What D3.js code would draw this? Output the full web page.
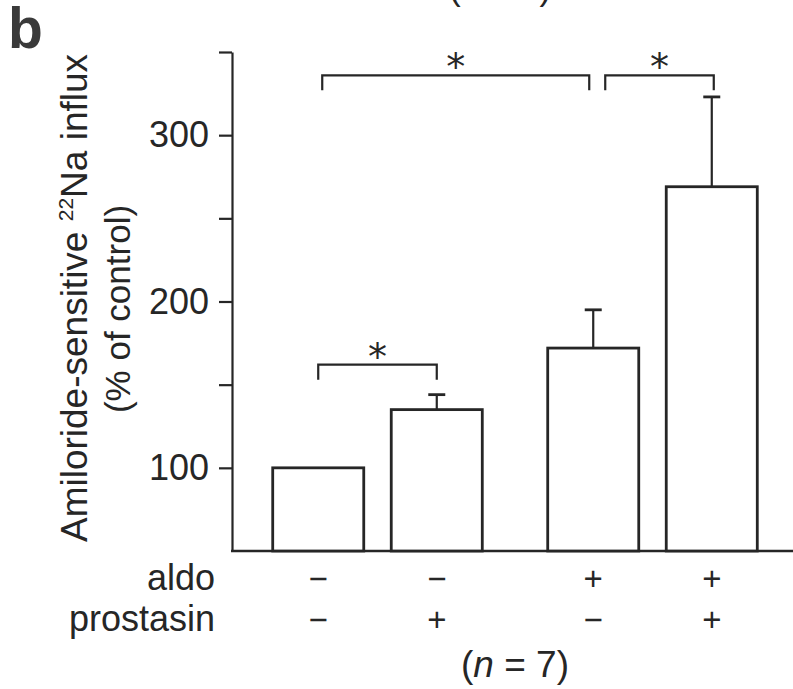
<!DOCTYPE html>
<html><head><meta charset="utf-8">
<script src="https://cdn.jsdelivr.net/npm/d3@7"></script>
<style>body{margin:0;background:#fff}svg{display:block}</style>
</head><body><svg id="c" width="793" height="689"></svg>
<script>
// ---- data ----
const aldo      = ["−", "−", "+", "+"];
const prostasin = ["−", "+", "−", "+"];
const values    = [100, 135, 172, 269];
const errUpper  = [100, 144, 195, 323];
const yTickValues = [100, 150, 200, 250, 300, 350];
const yTickLabels = [100, 200, 300];
const brackets = [
  {from: 0, to: 1, top: 162, leg: 153},
  {from: 0, to: 2, top: 336, leg: 327},
  {from: 2, to: 3, top: 336, leg: 327}
];
const bracketInsets = [[0, 0], [4, -4], [12, 2]];
const nLabel = "7";

// ---- drawing ----
const svg = d3.select("#c");
const FONT = "'Liberation Sans', Arial, Helvetica, sans-serif";
const INK = "#262626";

const y = d3.scaleLinear().domain([50, 350]).range([551, 52]);
const xOuter = d3.scaleBand().domain(["−", "+"]).range([240, 790]);
const xInner = d3.scaleBand().domain(["−", "+"]).range([0, xOuter.bandwidth()])
  .paddingInner(0.232).paddingOuter(0.276);
const xLeft = i => xOuter(aldo[i]) + xInner(prostasin[i]);
const xMid = i => xLeft(i) + xInner.bandwidth() / 2;

// panel letter
svg.append("text").attr("x", 8).attr("y", 48)
  .attr("font-family", FONT).attr("font-weight", "bold").attr("font-size", 57)
  .attr("fill", "#3a3a3a").text("b");

// cut-off top label
svg.append("text").attr("x", 500).attr("y", 0).attr("text-anchor", "middle")
  .attr("font-family", FONT).attr("font-size", 35).attr("fill", INK)
  .text("(n = 5)");

// y axis
const axisX = 232;
const yAxis = d3.axisLeft(y).tickValues(yTickValues).tickSize(13).tickSizeOuter(0)
  .tickPadding(10).tickFormat(d => yTickLabels.includes(d) ? d : "");
const gy = svg.append("g").attr("transform", `translate(${axisX},0)`).call(yAxis);
gy.select(".domain").attr("stroke", INK).attr("stroke-width", 2.2);
gy.selectAll(".tick line").attr("stroke", INK).attr("stroke-width", 2.2);
gy.selectAll(".tick text").attr("font-family", FONT).attr("font-size", 36)
  .attr("fill", INK);

// baseline
svg.append("line").attr("x1", axisX - 1).attr("x2", 793)
  .attr("y1", y(50)).attr("y2", y(50))
  .attr("stroke", INK).attr("stroke-width", 2.6);

// y title
const title = svg.append("text")
  .attr("transform", `translate(87, 298) rotate(-90)`)
  .attr("text-anchor", "middle").attr("font-family", FONT).attr("font-size", 37)
  .attr("fill", INK);
title.append("tspan").text("Amiloride-sensitive ");
title.append("tspan").attr("font-size", 21).attr("dy", -14).text("22");
title.append("tspan").attr("dy", 14).text("Na influx");
svg.append("text")
  .attr("transform", `translate(130, 309) rotate(-90)`)
  .attr("text-anchor", "middle").attr("font-family", FONT).attr("font-size", 35)
  .attr("fill", INK).text("(% of control)");

// bars
svg.selectAll("rect.bar").data(values).join("rect").attr("class", "bar")
  .attr("x", (d, i) => xLeft(i)).attr("width", xInner.bandwidth())
  .attr("y", d => y(d)).attr("height", d => y(50) - y(d))
  .attr("fill", "#fff").attr("stroke", INK).attr("stroke-width", 2.8);

// error bars
const capW = 17;
const eb = svg.selectAll("g.eb").data(values.map((v, i) => ({v, e: errUpper[i], i})).filter(d => d.e > d.v))
  .join("g").attr("class", "eb");
eb.append("line").attr("x1", d => xMid(d.i)).attr("x2", d => xMid(d.i))
  .attr("y1", d => y(d.v)).attr("y2", d => y(d.e))
  .attr("stroke", INK).attr("stroke-width", 2.2);
eb.append("line").attr("x1", d => xMid(d.i) - capW / 2).attr("x2", d => xMid(d.i) + capW / 2)
  .attr("y1", d => y(d.e)).attr("y2", d => y(d.e))
  .attr("stroke", INK).attr("stroke-width", 2.8);

// significance brackets
brackets.forEach((b, k) => {
  const x1 = xMid(b.from) + bracketInsets[k][0];
  const x2 = xMid(b.to) + bracketInsets[k][1];
  svg.append("path")
    .attr("d", `M${x1},${y(b.leg)}V${y(b.top)}H${x2}V${y(b.leg)}`)
    .attr("fill", "none").attr("stroke", INK).attr("stroke-width", 2.2);
  svg.append("text").attr("x", (x1 + x2) / 2).attr("y", y(b.top) + 5)
    .attr("text-anchor", "middle").attr("font-family", "'DejaVu Sans', sans-serif")
    .attr("font-size", 38).attr("fill", INK).text("*");
});

// condition rows
const rowLabels = [{name: "aldo", arr: aldo, yb: 590}, {name: "prostasin", arr: prostasin, yb: 631}];
rowLabels.forEach(r => {
  svg.append("text").attr("x", 215).attr("y", r.yb).attr("text-anchor", "end")
    .attr("font-family", FONT).attr("font-size", 36).attr("fill", INK).text(r.name);
  svg.selectAll(null).data(r.arr).join("text")
    .attr("x", (d, i) => xMid(i)).attr("y", r.yb).attr("text-anchor", "middle")
    .attr("font-family", FONT).attr("font-size", 33).attr("font-weight", 300)
    .attr("fill", INK).text(d => d);
});

// n label
const nt = svg.append("text").attr("x", (xMid(0) + xMid(3)) / 2).attr("y", 677)
  .attr("text-anchor", "middle").attr("font-family", FONT).attr("font-size", 37).attr("fill", INK);
nt.append("tspan").text("(");
nt.append("tspan").attr("font-style", "italic").text("n");
nt.append("tspan").text(" = " + nLabel + ")");
</script>
</body></html>
